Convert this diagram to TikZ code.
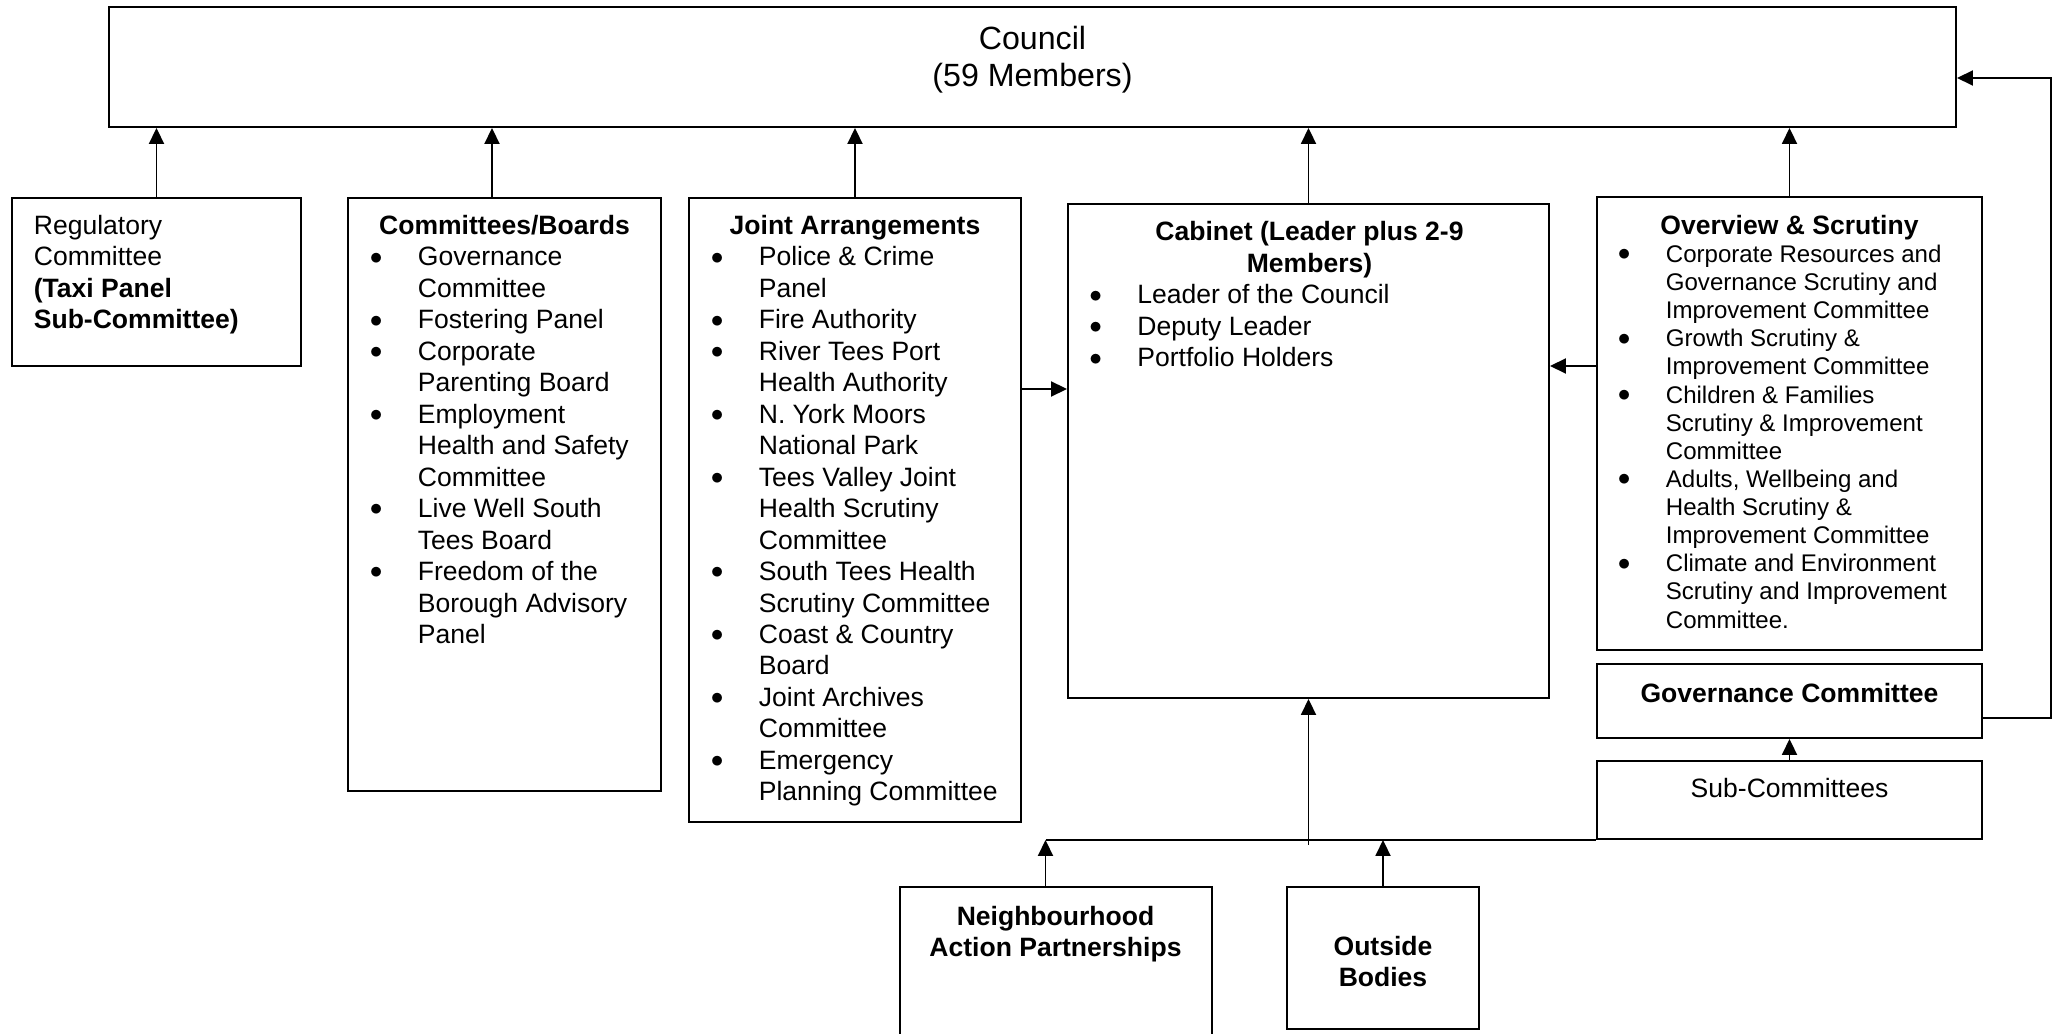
\documentclass[tikz,border=0pt]{standalone}
\usepackage{fontspec}
\setmainfont{Liberation Sans}
\usetikzlibrary{arrows.meta,positioning,calc}

\newcommand{\mainsize}{\fontsize{15.1}{17.9}\selectfont}
\newcommand{\smallsize}{\fontsize{13.7}{16}\selectfont}
\newcommand{\bigsize}{\fontsize{18.3}{20.8}\selectfont}
\newcommand{\blt}{\raisebox{1pt}{$\bullet$}}

\begin{document}
\begin{tikzpicture}[
    box/.style={rectangle, draw, line width=1.1pt, inner sep=0pt},
    headtxt/.style={font=\mainsize\bfseries, inner sep=0pt, anchor=base},
    plaintxt/.style={font=\mainsize, inner sep=0pt, anchor=base},
    listtxt/.style={font=\mainsize, inner sep=0pt, anchor=base west},
    arrow/.style={-{Triangle[length=0.32cm,width=0.3cm]}, line width=1.1pt},
    link/.style={line width=1.1pt}
]
    \useasboundingbox (0,0) rectangle (41.04,-20.68);

    % Council
    \node[box, minimum width=36.94cm, minimum height=2.4cm] (council) at (20.65,-1.34) {};
    \node[plaintxt, font=\bigsize] (counciltxt) at (20.65,-1.00)
        {\begin{tabular}[t]{@{}c@{}}Council\\(59 Members)\end{tabular}};

    % Regulatory
    \node[box, minimum width=5.78cm, minimum height=3.36cm] (reg) at (3.13,-5.64) {};
    \node[listtxt] (regtxt) at (0.67,-4.69)
        {\begin{tabular}[t]{@{}l@{}}Regulatory\\Committee\\\textbf{(Taxi Panel}\\\textbf{Sub-Committee)}\end{tabular}};

    % Committees/Boards
    \node[box, minimum width=6.26cm, minimum height=11.86cm] (comm) at (10.09,-9.89) {};
    \node[headtxt] (commhead) at (10.09,-4.69) {Committees/Boards};
    \node[listtxt] (commlist) at (7.39,-5.32)
        {\begin{tabular}[t]{@{}p{0.96cm}@{}l@{}}
        \blt & Governance\\ & Committee\\
        \blt & Fostering Panel\\
        \blt & Corporate\\ & Parenting Board\\
        \blt & Employment\\ & Health and Safety\\ & Committee\\
        \blt & Live Well South\\ & Tees Board\\
        \blt & Freedom of the\\ & Borough Advisory\\ & Panel
        \end{tabular}};

    % Joint Arrangements
    \node[box, minimum width=6.64cm, minimum height=12.48cm] (joint) at (17.10,-10.20) {};
    \node[headtxt] (jointhead) at (17.10,-4.69) {Joint Arrangements};
    \node[listtxt] (jointlist) at (14.21,-5.32)
        {\begin{tabular}[t]{@{}p{0.96cm}@{}l@{}}
        \blt & Police \& Crime\\ & Panel\\
        \blt & Fire Authority\\
        \blt & River Tees Port\\ & Health Authority\\
        \blt & N. York Moors\\ & National Park\\
        \blt & Tees Valley Joint\\ & Health Scrutiny\\ & Committee\\
        \blt & South Tees Health\\ & Scrutiny Committee\\
        \blt & Coast \& Country\\ & Board\\
        \blt & Joint Archives\\ & Committee\\
        \blt & Emergency\\ & Planning Committee
        \end{tabular}};

    % Cabinet
    \node[box, minimum width=9.62cm, minimum height=9.88cm] (cab) at (26.17,-9.02) {};
    \node[headtxt] (cabhead) at (26.19,-4.82)
        {\begin{tabular}[t]{@{}c@{}}Cabinet (Leader plus 2-9\\Members)\end{tabular}};
    \node[listtxt] (cablist) at (21.78,-6.08)
        {\begin{tabular}[t]{@{}p{0.96cm}@{}l@{}}
        \blt & Leader of the Council\\
        \blt & Deputy Leader\\
        \blt & Portfolio Holders
        \end{tabular}};

    % Overview & Scrutiny
    \node[box, minimum width=7.7cm, minimum height=9.06cm] (ons) at (35.79,-8.47) {};
    \node[headtxt] (onshead) at (35.79,-4.69) {Overview \& Scrutiny};
    \node[listtxt, font=\smallsize] (onslist) at (32.35,-5.25)
        {\begin{tabular}[t]{@{}p{0.96cm}@{}l@{}}
        \blt & Corporate Resources and\\ & Governance Scrutiny and\\ & Improvement Committee\\
        \blt & Growth Scrutiny \&\\ & Improvement Committee\\
        \blt & Children \& Families\\ & Scrutiny \& Improvement\\ & Committee\\
        \blt & Adults, Wellbeing and\\ & Health Scrutiny \&\\ & Improvement Committee\\
        \blt & Climate and Environment\\ & Scrutiny and Improvement\\ & Committee.
        \end{tabular}};

    % Governance Committee and Sub-Committees
    \node[box, minimum width=7.69cm, minimum height=1.48cm] (gov) at (35.79,-14.02) {};
    \node[headtxt] (govhead) at (35.79,-14.04) {Governance Committee};
    \node[box, minimum width=7.69cm, minimum height=1.56cm] (sub) at (35.79,-16.00) {};
    \node[plaintxt] (subtxt) at (35.79,-15.95) {Sub-Committees};

    % Neighbourhood Action Partnerships and Outside Bodies
    \node[box, minimum width=6.24cm, minimum height=3.46cm] (nap) at (21.12,-19.47) {};
    \node[headtxt] (naphead) at (21.11,-18.51)
        {\begin{tabular}[t]{@{}c@{}}Neighbourhood\\Action Partnerships\end{tabular}};
    \node[box, minimum width=3.84cm, minimum height=2.84cm] (out) at (27.66,-19.16) {};
    \node[headtxt] (outhead) at (27.66,-19.11)
        {\begin{tabular}[t]{@{}c@{}}Outside\\Bodies\end{tabular}};

    % Arrows up to Council
    \draw[arrow] (reg.north) -- (reg.north |- council.south);
    \draw[arrow] ([xshift=-0.25cm]comm.north) -- ([xshift=-0.25cm]comm.north |- council.south);
    \draw[arrow] (joint.north) -- (joint.north |- council.south);
    \draw[arrow] (cab.north) -- (cab.north |- council.south);
    \draw[arrow] (ons.north) -- (ons.north |- council.south);

    % Arrows into Cabinet
    \coordinate (jy) at (0,-7.78);
    \draw[arrow] (joint.east |- jy) -- (cab.west |- jy);
    \coordinate (oy) at (0,-7.32);
    \draw[arrow] (ons.west |- oy) -- (cab.east |- oy);

    % Governance Committee back to Council
    \draw[arrow] (sub) -- (gov);
    \coordinate (gy) at ([yshift=-0.34cm]gov.east);
    \coordinate (cy) at ([yshift=-0.22cm]council.east);
    \draw[arrow] (gy) -- ++(1.37,0) |- (cy);

    % Bus line below Cabinet
    \coordinate (busl) at ([xshift=-0.21cm]nap.north |- sub.south);
    \draw[link] (busl) -- (sub.south west);
    \draw[arrow] ([yshift=-0.1cm]cab.south |- sub.south) -- (cab.south);
    \draw[arrow] ([xshift=-0.21cm]nap.north) -- (busl);
    \draw[arrow] (out.north) -- (out.north |- sub.south);
\end{tikzpicture}
\end{document}
